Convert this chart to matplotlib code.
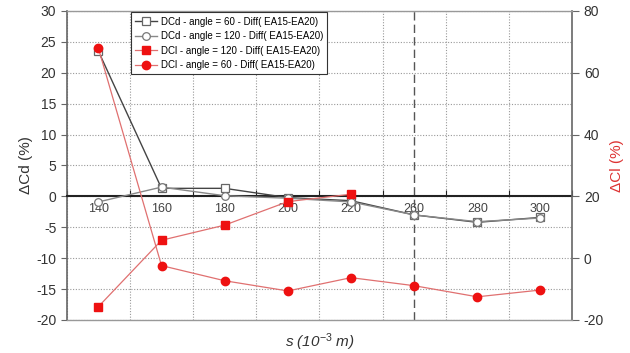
import numpy as np
import matplotlib
matplotlib.use("Agg")
import matplotlib.pyplot as plt

plt.rcParams["font.family"] = ["Liberation Sans", "DejaVu Sans"]
plt.rcParams["axes.unicode_minus"] = False
plt.rcParams["mathtext.fontset"] = "custom"
plt.rcParams["mathtext.rm"] = "Liberation Sans"
plt.rcParams["mathtext.it"] = "Liberation Sans:italic"

# spacing categories (10^-3 m)
s_labels = ["140", "160", "180", "200", "220", "260", "280", "300"]

# drag differences (%), left axis
dcd_60 = [23.5, 1.3, 1.3, -0.2, -0.7, -3.0, -4.2, -3.4]
dcd_120 = [-0.9, 1.5, 0.1, -0.3, -0.9, -3.0, -4.1, -3.5]

# lift differences (%), right axis
dcl_120 = [-15.7, 5.8, 10.7, 18.3, 20.7]
dcl_60 = [68.0, -2.4, -7.3, -10.6, -6.3, -8.9, -12.5, -10.3]

x = np.arange(len(s_labels))

fig = plt.figure(figsize=(6.3, 3.53), dpi=100)
ax = fig.add_axes([0.106, 0.0935, 0.802, 0.8755])
ax2 = ax.twinx()

ax.set_xlim(-0.5, len(s_labels) - 0.5)
ax.set_ylim(-20, 30)
ax2.set_ylim(-20, 80)

# grid: category boundaries and every 5 %
ax.set_xticks(np.arange(-0.5, len(s_labels), 1.0))
ax.set_xticks(x, minor=True)
ax.set_xticklabels([])
ax.set_xticklabels(s_labels, minor=True)
ax.set_yticks(np.arange(-20, 31, 5))
ax.grid(True, which="major", color="#999999", linestyle=(0, (1, 1.5)), linewidth=0.8)
ax.set_axisbelow(True)

ax.axvline(5, color="#555555", linestyle=(0, (6, 3)), linewidth=1.0, zorder=1)

# x axis drawn through zero
ax.spines["bottom"].set_position(("data", 0))
ax.spines["bottom"].set_color("#222222")
ax.spines["bottom"].set_linewidth(1.5)
ax.spines["top"].set_visible(False)
ax.spines["right"].set_visible(False)
ax.spines["left"].set_color("#666666")
ax.spines["left"].set_linewidth(1.2)
ax.tick_params(axis="x", which="major", direction="in", length=4, color="#222222")
ax.tick_params(axis="x", which="minor", length=0, pad=5, labelsize=9, labelcolor="#444444")
ax.tick_params(axis="y", direction="out", length=4, labelsize=10, color="#666666",
               labelcolor="#333333")

for side in ["top", "bottom", "right"]:
    ax2.spines[side].set_color("#999999")
    ax2.spines[side].set_linewidth(1.0)
ax2.spines["left"].set_visible(False)
ax2.spines["right"].set_color("#666666")
ax2.spines["right"].set_linewidth(1.2)
ax2.set_yticks(np.arange(-20, 81, 20))
ax2.tick_params(axis="y", direction="out", length=5, labelsize=10, color="#666666",
                labelcolor="#333333")

l1, = ax.plot(x, dcd_60, color="#444444", linewidth=1.0, marker="s", markersize=5.5,
              markerfacecolor="white", markeredgecolor="#666666", markeredgewidth=0.9,
              label="DCd - angle = 60 - Diff( EA15-EA20)", zorder=3)
l2, = ax.plot(x, dcd_120, color="#888888", linewidth=1.0, marker="o", markersize=5.5,
              markerfacecolor="white", markeredgecolor="#777777", markeredgewidth=0.9,
              label="DCd - angle = 120 - Diff( EA15-EA20)", zorder=3)
l3, = ax2.plot(x[:len(dcl_120)], dcl_120, color="#e07070", linewidth=0.9, marker="s",
               markersize=5.5, markerfacecolor="#ee1111", markeredgecolor="#ee1111",
               label="DCl - angle = 120 - Diff( EA15-EA20)", zorder=3)
l4, = ax2.plot(x, dcl_60, color="#e07070", linewidth=0.9, marker="o", markersize=6,
               markerfacecolor="#ee1111", markeredgecolor="#ee1111",
               label="DCl - angle = 60 - Diff( EA15-EA20)", zorder=3)

ax.set_ylabel("ΔCd (%)", fontsize=11, color="#333333", labelpad=2)
ax2.set_ylabel("ΔCl (%)", fontsize=11, color="#dd3333", labelpad=4)
fig.text(0.508, 0.03, "s (10$^{-3}$ m)", fontsize=11, style="italic", color="#333333",
         ha="center", va="center")

leg = ax2.legend(handles=[l1, l2, l3, l4], loc="upper left", bbox_to_anchor=(0.127, 0.995),
                 borderaxespad=0, fontsize=7, fancybox=False, framealpha=1,
                 edgecolor="#333333", handlelength=2.2, labelspacing=0.45,
                 handletextpad=0.4, borderpad=0.45)
leg.get_frame().set_linewidth(0.8)

fig.savefig("out.png", dpi=100)
